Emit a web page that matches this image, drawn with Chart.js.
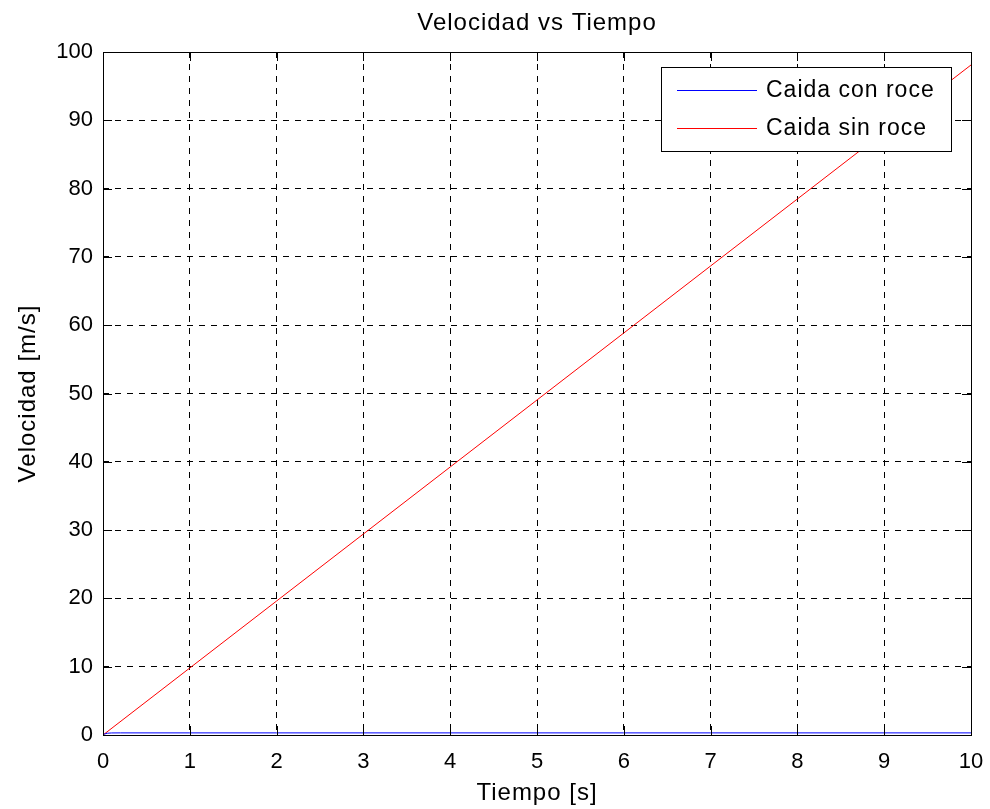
<!DOCTYPE html>
<html><head><meta charset="utf-8">
<script src="https://cdn.jsdelivr.net/npm/chart.js@4"></script>
<style>html,body{margin:0;padding:0;background:#fff}#wrap{width:990px;height:809px}</style>
</head><body><div id="wrap"><canvas id="c" width="990" height="809"></canvas></div>
<script>
const titleText = "Velocidad vs Tiempo";
const xTitle = "Tiempo [s]";
const yTitle = "Velocidad [m/s]";
const xTicks = [0,1,2,3,4,5,6,7,8,9,10];
const yTicks = [0,10,20,30,40,50,60,70,80,90,100];
const timeRed = [0,1,2,3,4,5,6,7,8,9,10];
const velRed = [0,9.81,19.62,29.43,39.24,49.05,58.86,68.67,78.48,88.29,98.1];
const timeBlue = [0,0.02,0.05,0.1,0.2,1,2,3,4,5,6,7,8,9,10];
const velBlue = [0,0.15,0.26,0.3,0.31,0.31,0.31,0.31,0.31,0.31,0.31,0.31,0.31,0.31,0.31];
const seriesNames = ["Caida con roce","Caida sin roce"];
const seriesColors = ["#0000ff","#ff0000"];

const FONT = "'Liberation Sans', Arial, Helvetica, sans-serif";

const matlabPlugin = {
  id: 'matlab',
  afterDraw(chart) {
    const {ctx, chartArea: a, scales: {x, y}} = chart;
    ctx.save();
    ctx.strokeStyle = '#000'; ctx.lineWidth = 1;
    const L = 9;
    ctx.beginPath();
    xTicks.forEach(v => {
      const px = Math.round(x.getPixelForValue(v)) + 0.5;
      ctx.moveTo(px, a.bottom); ctx.lineTo(px, a.bottom - L);
      ctx.moveTo(px, a.top); ctx.lineTo(px, a.top + L);
    });
    yTicks.forEach(v => {
      const py = Math.round(y.getPixelForValue(v)) + 0.5;
      ctx.moveTo(a.left, py); ctx.lineTo(a.left + L, py);
      ctx.moveTo(a.right, py); ctx.lineTo(a.right - L, py);
    });
    ctx.stroke();
    ctx.strokeRect(Math.round(a.left)+0.5, Math.round(a.top)+0.5, Math.round(a.right-a.left), Math.round(a.bottom-a.top));
    ctx.fillStyle = '#000';
    ctx.letterSpacing = '1px';
    ctx.font = '24px ' + FONT;
    ctx.textAlign = 'center'; ctx.textBaseline = 'alphabetic';
    ctx.fillText(titleText, (a.left + a.right)/2, 30);
    ctx.fillText(xTitle, (a.left + a.right)/2, 800);
    ctx.save();
    ctx.translate(35, (a.top + a.bottom)/2);
    ctx.rotate(-Math.PI/2);
    ctx.fillText(yTitle, 0, 0);
    ctx.restore();
    // legend
    const bx = 661.5, by = 67.5, bw = 290, bh = 84;
    ctx.fillStyle = '#fff';
    ctx.fillRect(bx, by, bw, bh);
    ctx.strokeRect(bx, by, bw, bh);
    ctx.font = '23px ' + FONT;
    ctx.textAlign = 'left'; ctx.textBaseline = 'middle';
    chart.data.datasets.forEach((ds, i) => {
      const ly = by + 22 + i*38;
      ctx.strokeStyle = ds.borderColor; ctx.lineWidth = 1;
      ctx.beginPath(); ctx.moveTo(677, Math.round(ly)+0.5); ctx.lineTo(757, Math.round(ly)+0.5); ctx.stroke();
      ctx.fillStyle = '#000';
      ctx.fillText(ds.label, 766, ly + 1);
    });
    ctx.restore();
  }
};

new Chart(document.getElementById('c'), {
  type: 'line',
  data: {
    datasets: [
      { label: seriesNames[0], data: timeBlue.map((t,i)=>({x:t,y:velBlue[i]})), borderColor: seriesColors[0], borderWidth: 1, pointRadius: 0, tension: 0, fill: false },
      { label: seriesNames[1], data: timeRed.map((t,i)=>({x:t,y:velRed[i]})), borderColor: seriesColors[1], borderWidth: 1, pointRadius: 0, tension: 0, fill: false }
    ]
  },
  options: {
    responsive: false, animation: false, devicePixelRatio: 1,
    layout: { padding: { top: 52, right: 19, left: 0, bottom: 0 } },
    plugins: { legend: { display: false }, title: { display: false }, tooltip: { enabled: false } },
    scales: {
      x: {
        type: 'linear', min: 0, max: 10,
        afterBuildTicks: s => { s.ticks = xTicks.map(v => ({value: v})); },
        afterFit: s => { s.height = 74; s.paddingLeft = 0; s.paddingRight = 0; },
        grid: { color: '#000', lineWidth: 1, drawTicks: false },
        border: { display: false, dash: [6, 6] },
        ticks: { color: '#000', font: { family: FONT, size: 22 }, padding: 14, maxRotation: 0, autoSkip: false }
      },
      y: {
        type: 'linear', min: 0, max: 100,
        afterBuildTicks: s => { s.ticks = yTicks.map(v => ({value: v})); },
        afterFit: s => { s.width = 103; s.paddingTop = 0; s.paddingBottom = 0; },
        grid: { color: '#000', lineWidth: 1, drawTicks: false },
        border: { display: false, dash: [6, 6] },
        ticks: { color: '#000', font: { family: FONT, size: 22 }, padding: 10, autoSkip: false }
      }
    }
  },
  plugins: [matlabPlugin]
});
</script></body></html>
